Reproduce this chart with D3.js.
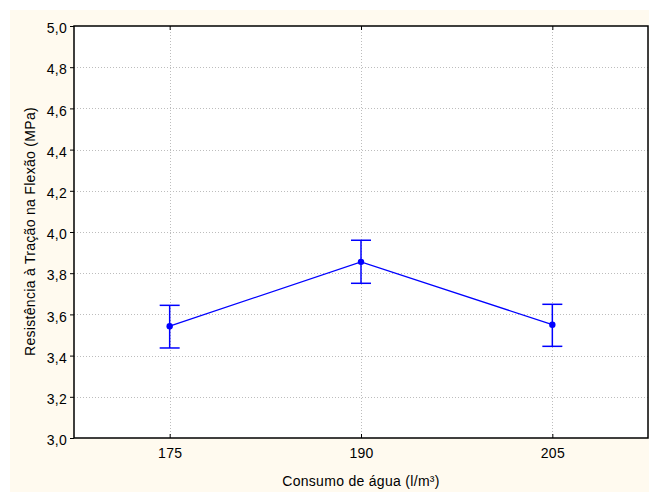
<!DOCTYPE html>
<html>
<head>
<meta charset="utf-8">
<script src="https://cdn.jsdelivr.net/npm/d3@7"></script>
<style>
  html, body { margin: 0; padding: 0; background: #ffffff; }
  svg { display: block; }
  text { font-family: "Liberation Sans", Arial, sans-serif; fill: #000; letter-spacing: 0.3px; }
</style>
</head>
<body>
<svg id="chart" width="649" height="493"></svg>
<script>
// Water consumption levels and mean flexural tensile strength with error bounds
const categories = ["175", "190", "205"];
const means = [3.543, 3.855, 3.550];
const upper = [3.644, 3.960, 3.649];
const lower = [3.437, 3.751, 3.445];
const yTicks = [3.0, 3.2, 3.4, 3.6, 3.8, 4.0, 4.2, 4.4, 4.6, 4.8, 5.0];

const svg = d3.select("#chart");
const W = 649, H = 493;
const plot = { left: 74, top: 26, right: 648, bottom: 438 };
const FONT = "Liberation Sans, Arial, sans-serif";

// cream page background
svg.append("rect").attr("x", 10).attr("y", 10).attr("width", W - 10).attr("height", H - 11)
  .attr("fill", "#fffaef");

// white plotting area
svg.append("rect").attr("x", plot.left).attr("y", plot.top)
  .attr("width", plot.right - plot.left).attr("height", plot.bottom - plot.top)
  .attr("fill", "#ffffff");

const x = d3.scalePoint().domain(categories).range([plot.left, plot.right]).padding(0.5);
const y = d3.scaleLinear().domain([3.0, 5.0]).range([plot.bottom, plot.top]);
const fmt = v => d3.format(".1f")(v).replace(".", ",");

// dotted grid
const grid = svg.append("g").attr("stroke", "#bdbdbd").attr("stroke-width", 1)
  .attr("stroke-dasharray", "1,2");
grid.selectAll("line.h").data(yTicks.slice(1, -1)).join("line").attr("class", "h")
  .attr("x1", plot.left).attr("x2", plot.right)
  .attr("y1", d => Math.round(y(d)) + 0.5).attr("y2", d => Math.round(y(d)) + 0.5);
grid.selectAll("line.v").data(categories).join("line").attr("class", "v")
  .attr("y1", plot.top).attr("y2", plot.bottom)
  .attr("x1", d => Math.round(x(d)) + 0.5).attr("x2", d => Math.round(x(d)) + 0.5);

// left axis
const yAxis = d3.axisLeft(y).tickValues(yTicks).tickFormat(fmt).tickSize(4).tickPadding(3);
const gy = svg.append("g").attr("transform", `translate(${plot.left},0)`).call(yAxis);
gy.select(".domain").remove();
gy.selectAll("text").attr("font-size", 14).attr("font-family", FONT).attr("dy", "0.48em");

// bottom axis (ticks pointing inward)
const xAxis = d3.axisBottom(x).tickSize(-4).tickPadding(10);
const gx = svg.append("g").attr("transform", `translate(0,${plot.bottom})`).call(xAxis);
gx.select(".domain").remove();
gx.selectAll("text").attr("font-size", 14).attr("font-family", FONT);

// top axis ticks (inward)
const gt = svg.append("g").attr("transform", `translate(0,${plot.top})`)
  .call(d3.axisTop(x).tickSize(-4).tickFormat(""));
gt.select(".domain").remove();

// frame
svg.append("rect").attr("x", plot.left).attr("y", plot.top)
  .attr("width", plot.right - plot.left).attr("height", plot.bottom - plot.top)
  .attr("fill", "none").attr("stroke", "#000").attr("stroke-width", 1.5);

// series
const data = categories.map((c, i) => ({ c, m: means[i], hi: upper[i], lo: lower[i] }));
const blue = "#0000ff";

svg.append("path").datum(data)
  .attr("fill", "none").attr("stroke", blue).attr("stroke-width", 1.3)
  .attr("d", d3.line().x(d => x(d.c)).y(d => y(d.m)));

const eb = svg.append("g").attr("stroke", blue).attr("stroke-width", 1.5);
eb.selectAll("line.stem").data(data).join("line").attr("class", "stem")
  .attr("x1", d => x(d.c)).attr("x2", d => x(d.c))
  .attr("y1", d => y(d.hi)).attr("y2", d => y(d.lo));
eb.selectAll("line.capHi").data(data).join("line").attr("class", "capHi")
  .attr("x1", d => x(d.c) - 10).attr("x2", d => x(d.c) + 10)
  .attr("y1", d => y(d.hi)).attr("y2", d => y(d.hi));
eb.selectAll("line.capLo").data(data).join("line").attr("class", "capLo")
  .attr("x1", d => x(d.c) - 10).attr("x2", d => x(d.c) + 10)
  .attr("y1", d => y(d.lo)).attr("y2", d => y(d.lo));

svg.append("g").selectAll("circle").data(data).join("circle")
  .attr("cx", d => x(d.c)).attr("cy", d => y(d.m)).attr("r", 3.2)
  .attr("fill", blue);

// axis titles
svg.append("text").attr("x", (plot.left + plot.right) / 2).attr("y", 486)
  .attr("text-anchor", "middle").attr("font-size", 14)
  .text("Consumo de água (l/m³)");

svg.append("text")
  .attr("transform", `translate(35,231.5) rotate(-90)`)
  .attr("text-anchor", "middle").attr("font-size", 14)
  .text("Resistência à Tração na Flexão (MPa)");
</script>
</body>
</html>
